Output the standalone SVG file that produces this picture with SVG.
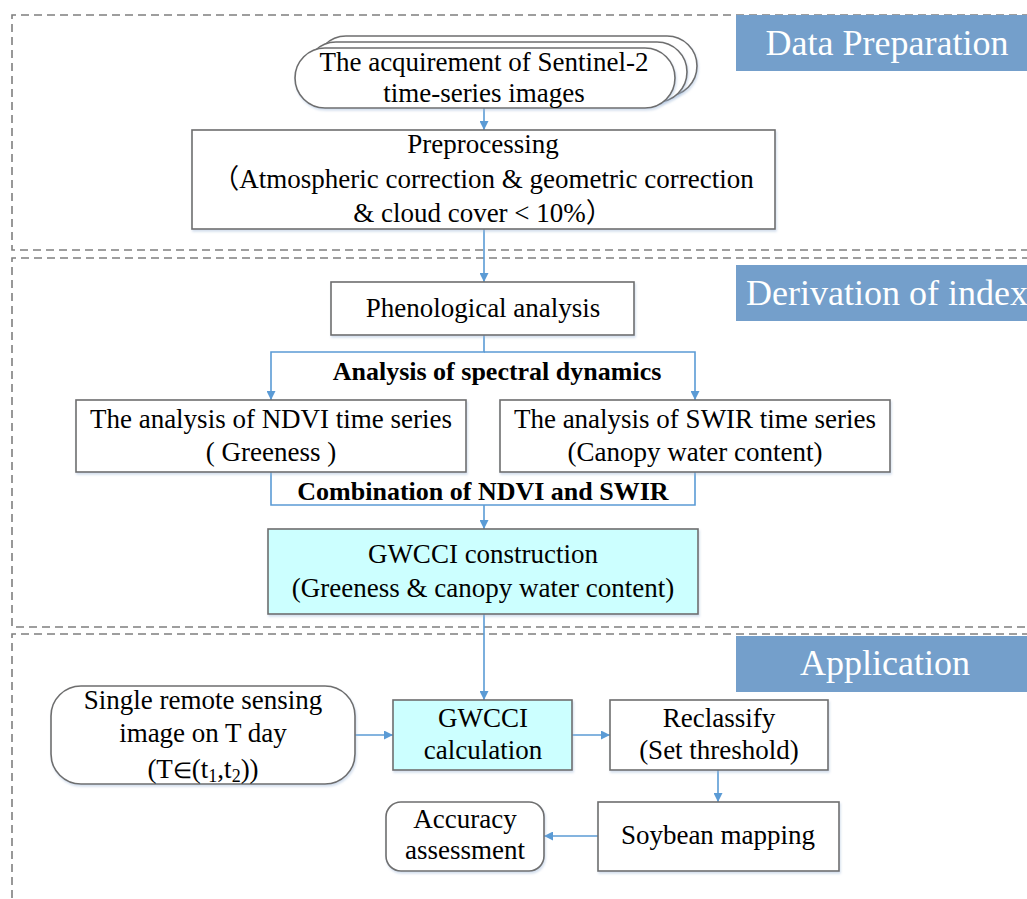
<svg xmlns="http://www.w3.org/2000/svg" width="1027" height="899" viewBox="0 0 1027 899">
<style>
.frame{fill:none;stroke:#7f7f7f;stroke-width:1.6;stroke-dasharray:8 5}
.box{fill:#fff;stroke:#6e6e6e;stroke-width:1.6;filter:url(#sh)}
.cyan{fill:#ccffff}
.hdr{fill:#749fcb}
.t{font-family:"Liberation Serif","Times New Roman",serif;font-size:27px;fill:#000;text-anchor:middle}
.cjk{font-family:"Liberation Serif","Noto Sans CJK SC",serif}
.b{font-weight:bold;font-size:26px}
.h{font-family:"Liberation Serif","Times New Roman",serif;font-size:36px;fill:#fff;text-anchor:middle}
.c{fill:none;stroke:#5b9bd5;stroke-width:1.6}
</style>
<defs>
<marker id="ar" viewBox="0 0 10 10" refX="10" refY="5" markerWidth="9" markerHeight="9" markerUnits="userSpaceOnUse" orient="auto">
<path d="M0,0 L10,5 L0,10 z" fill="#5b9bd5"/>
</marker>
<filter id="sh" x="-5%" y="-5%" width="110%" height="115%">
<feDropShadow dx="1" dy="2" stdDeviation="1.2" flood-color="#9fb7d8" flood-opacity="0.45"/>
</filter>
</defs>
<rect width="1027" height="899" fill="#fff"/>

<g id="frames">
<path class="frame" d="M1030,15 H12 V250 H1030"/>
<path class="frame" d="M1030,258 H12 V627 H1030"/>
<path class="frame" d="M1030,634 H12 V905"/>
</g>

<g id="hdr-data"><rect class="hdr" x="736" y="15" width="300" height="56"/><text class="h" x="887" y="55">Data Preparation</text></g>
<g id="hdr-deriv"><rect class="hdr" x="736" y="265" width="300" height="56"/><text class="h" x="887" y="305" >Derivation of index</text></g>
<g id="hdr-app"><rect class="hdr" x="736" y="636" width="300" height="56"/><text class="h" x="885" y="675">Application</text></g>

<g id="connectors">
<line class="c" x1="484" y1="108" x2="484" y2="130" marker-end="url(#ar)"/>
<line class="c" x1="484" y1="229" x2="484" y2="282" marker-end="url(#ar)"/>
<polyline class="c" points="484,335 484,352 271,352 271,400" marker-end="url(#ar)"/>
<polyline class="c" points="484,352 695,352 695,400" marker-end="url(#ar)"/>
<polyline class="c" points="271,472 271,505 695,505 695,472"/>
<line class="c" x1="484" y1="505" x2="484" y2="529" marker-end="url(#ar)"/>
<line class="c" x1="484" y1="614" x2="484" y2="700" marker-end="url(#ar)"/>
<line class="c" x1="355" y1="735" x2="393" y2="735" marker-end="url(#ar)"/>
<line class="c" x1="572" y1="735" x2="610" y2="735" marker-end="url(#ar)"/>
<line class="c" x1="718" y1="770" x2="718" y2="802" marker-end="url(#ar)"/>
<line class="c" x1="598" y1="836" x2="544" y2="836" marker-end="url(#ar)"/>
<text class="t b" x="497" y="380">Analysis of spectral dynamics</text>
<text class="t b" x="483" y="500">Combination of NDVI and SWIR</text>
</g>

<g id="n-acq">
<rect class="box" x="316" y="36" width="381" height="60" rx="30"/>
<rect class="box" x="306" y="42" width="381" height="60" rx="30"/>
<rect class="box" x="295" y="48" width="380" height="60" rx="30"/>
<text class="t" x="484" y="71">The acquirement of Sentinel-2</text>
<text class="t" x="484" y="102">time-series images</text>
</g>

<g id="n-pre">
<rect class="box" x="192" y="130" width="583" height="99"/>
<text class="t" x="483" y="153">Preprocessing</text>
<text class="t cjk" x="483" y="188">（Atmospheric correction &amp; geometric correction</text>
<text class="t cjk" x="483" y="222">&amp; cloud cover &lt; 10%）</text>
</g>

<g id="n-phen">
<rect class="box" x="331" y="282" width="303" height="53"/>
<text class="t" x="483" y="317">Phenological analysis</text>
</g>

<g id="n-ndvi">
<rect class="box" x="76" y="400" width="390" height="72"/>
<text class="t" x="271" y="428">The analysis of NDVI time series</text>
<text class="t" x="271" y="461">( Greeness )</text>
</g>

<g id="n-swir">
<rect class="box" x="500" y="400" width="390" height="72"/>
<text class="t" x="695" y="428">The analysis of SWIR time series</text>
<text class="t" x="695" y="461">(Canopy water content)</text>
</g>

<g id="n-gwcci">
<rect class="box cyan" x="268" y="529" width="430" height="85"/>
<text class="t" x="483" y="563">GWCCI construction</text>
<text class="t" x="483" y="597">(Greeness &amp; canopy water content)</text>
</g>

<g id="n-single">
<rect class="box" x="51" y="686" width="304" height="98" rx="30"/>
<text class="t" x="203" y="709">Single remote sensing</text>
<text class="t" x="203" y="742">image on T day</text>
<text class="t" x="203" y="778">(T<tspan font-size="22">∈</tspan>(t<tspan font-size="18" dy="4">1</tspan><tspan dy="-4">,t</tspan><tspan font-size="18" dy="4">2</tspan><tspan dy="-4">))</tspan></text>
</g>

<g id="n-calc">
<rect class="box cyan" x="393" y="700" width="179" height="70"/>
<text class="t" x="483" y="727">GWCCI</text>
<text class="t" x="483" y="759">calculation</text>
</g>

<g id="n-recl">
<rect class="box" x="610" y="700" width="218" height="70"/>
<text class="t" x="719" y="727">Reclassify</text>
<text class="t" x="719" y="759">(Set threshold)</text>
</g>

<g id="n-soy">
<rect class="box" x="598" y="802" width="241" height="69"/>
<text class="t" x="718" y="844">Soybean mapping</text>
</g>

<g id="n-acc">
<rect class="box" x="386" y="802" width="158" height="69" rx="15"/>
<text class="t" x="465" y="828">Accuracy</text>
<text class="t" x="465" y="859">assessment</text>
</g>
</svg>
